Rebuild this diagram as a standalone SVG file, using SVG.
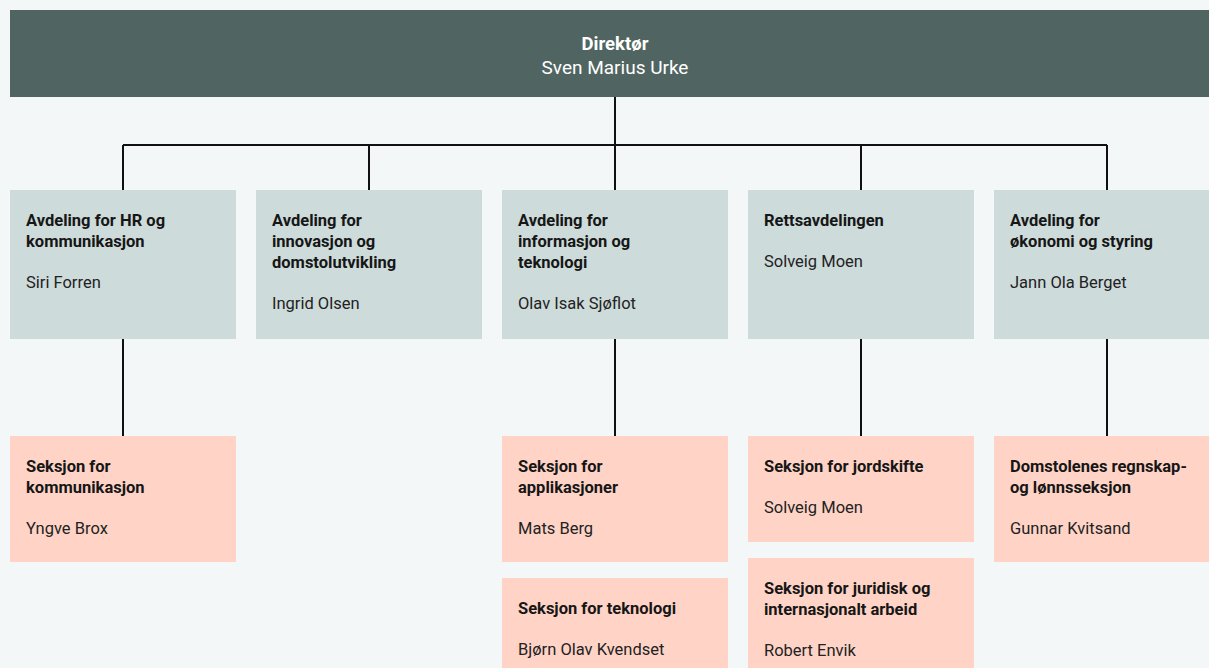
<svg xmlns="http://www.w3.org/2000/svg" width="1209" height="668" viewBox="0 0 1209 668">
<style>
.bg{fill:#f3f7f7}
.top{fill:#506562}
.dept{fill:#cddbda}
.sec{fill:#ffd4c7}
.t{font-family:Roboto,"Liberation Sans",sans-serif;font-size:16.5px;font-weight:700;fill:#161616}
.n{font-family:Roboto,"Liberation Sans",sans-serif;font-size:16.5px;font-weight:400;fill:#222}
.dt{font-family:Roboto,"Liberation Sans",sans-serif;font-size:18.5px;font-weight:700;fill:#fff;text-anchor:middle}
.dn{font-family:Roboto,"Liberation Sans",sans-serif;font-size:19px;font-weight:400;fill:#fff;text-anchor:middle}
.c{fill:none;stroke:#111;stroke-width:2}
</style>
<rect class="bg" x="0" y="0" width="1209" height="668"/>
<g id="connectors">
<path class="c" d="M615 97V145M123 145H1107M123 145V190M369 145V190M615 145V190M861 145V190M1107 145V190"/>
<path class="c" d="M123 339V436M615 339V436M861 339V436M1107 339V436"/>
</g>
<g id="direktor">
<rect class="top" x="10" y="10" width="1210" height="87"/>
<text class="dt" x="615" y="50">Direktør</text>
<text class="dn" x="615" y="74">Sven Marius Urke</text>
</g>
<g id="hr">
<rect class="dept" x="10" y="190" width="226" height="149"/>
<text class="t" x="26" y="226">Avdeling for HR og</text>
<text class="t" x="26" y="247">kommunikasjon</text>
<text class="n" x="26" y="288">Siri Forren</text>
</g>
<g id="innovasjon">
<rect class="dept" x="256" y="190" width="226" height="149"/>
<text class="t" x="272" y="226">Avdeling for</text>
<text class="t" x="272" y="247">innovasjon og</text>
<text class="t" x="272" y="268">domstolutvikling</text>
<text class="n" x="272" y="309">Ingrid Olsen</text>
</g>
<g id="it">
<rect class="dept" x="502" y="190" width="226" height="149"/>
<text class="t" x="518" y="226">Avdeling for</text>
<text class="t" x="518" y="247">informasjon og</text>
<text class="t" x="518" y="268">teknologi</text>
<text class="n" x="518" y="309">Olav Isak Sjøflot</text>
</g>
<g id="rett">
<rect class="dept" x="748" y="190" width="226" height="149"/>
<text class="t" x="764" y="226">Rettsavdelingen</text>
<text class="n" x="764" y="267">Solveig Moen</text>
</g>
<g id="okonomi">
<rect class="dept" x="994" y="190" width="226" height="149"/>
<text class="t" x="1010" y="226">Avdeling for</text>
<text class="t" x="1010" y="247">økonomi og styring</text>
<text class="n" x="1010" y="288">Jann Ola Berget</text>
</g>
<g id="kommunikasjon">
<rect class="sec" x="10" y="436" width="226" height="126"/>
<text class="t" x="26" y="472">Seksjon for</text>
<text class="t" x="26" y="493">kommunikasjon</text>
<text class="n" x="26" y="534">Yngve Brox</text>
</g>
<g id="applikasjoner">
<rect class="sec" x="502" y="436" width="226" height="126"/>
<text class="t" x="518" y="472">Seksjon for</text>
<text class="t" x="518" y="493">applikasjoner</text>
<text class="n" x="518" y="534">Mats Berg</text>
</g>
<g id="teknologi">
<rect class="sec" x="502" y="578" width="226" height="106"/>
<text class="t" x="518" y="614">Seksjon for teknologi</text>
<text class="n" x="518" y="655">Bjørn Olav Kvendset</text>
</g>
<g id="jordskifte">
<rect class="sec" x="748" y="436" width="226" height="106"/>
<text class="t" x="764" y="472">Seksjon for jordskifte</text>
<text class="n" x="764" y="513">Solveig Moen</text>
</g>
<g id="juridisk">
<rect class="sec" x="748" y="558" width="226" height="126"/>
<text class="t" x="764" y="594">Seksjon for juridisk og</text>
<text class="t" x="764" y="615">internasjonalt arbeid</text>
<text class="n" x="764" y="656">Robert Envik</text>
</g>
<g id="regnskap">
<rect class="sec" x="994" y="436" width="226" height="126"/>
<text class="t" x="1010" y="472">Domstolenes regnskap-</text>
<text class="t" x="1010" y="493">og lønnsseksjon</text>
<text class="n" x="1010" y="534">Gunnar Kvitsand</text>
</g>
</svg>
